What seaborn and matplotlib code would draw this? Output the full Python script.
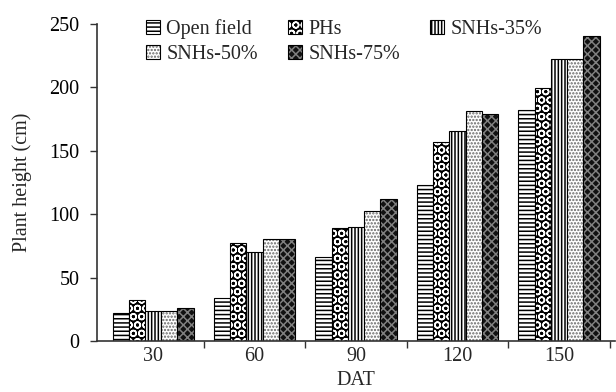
import pandas as pd
import matplotlib.pyplot as plt
import seaborn as sns

# data
dat = ['30', '60', '90', '120', '150']
treatments = ['Open field', 'PHs', 'SNHs-35%', 'SNHs-50%', 'SNHs-75%']
open_field = [22, 34, 66, 123, 182]
phs = [32, 77, 89, 157, 199]
snhs_35 = [24, 70, 90, 165, 222]
snhs_50 = [24, 80, 102, 181, 222]
snhs_75 = [26, 80, 112, 179, 240]

values = [open_field, phs, snhs_35, snhs_50, snhs_75]
rows = []
for t, vals in zip(treatments, values):
    for d, v in zip(dat, vals):
        rows.append({'DAT': d, 'Treatment': t, 'Height': v})
df = pd.DataFrame(rows)

sns.set_style('ticks')
plt.rcParams['font.family'] = ['Liberation Serif', 'DejaVu Serif']
plt.rcParams['hatch.linewidth'] = 1.1

fig, ax = plt.subplots(figsize=(6.16, 3.92), dpi=100)
sns.barplot(data=df, x='DAT', y='Height', hue='Treatment', order=dat,
            hue_order=treatments, palette=['white'] * 5, edgecolor='black',
            linewidth=0.8, width=0.8, ax=ax)

# face colour, hatch, hatch colour per treatment
styles = [('white', '----', 'black'),
          ('black', 'OO', 'white'),
          ('white', '|||||', 'black'),
          ('white', '.....', '#666666'),
          ('#111111', 'xxxx', '#808080')]
for cont, (fc, h, hc) in zip(ax.containers, styles):
    for bar in cont:
        bar.set_facecolor(fc)
        bar.set_edgecolor('black')
        bar.set_hatch(h)
        bar._hatch_color = plt.matplotlib.colors.to_rgba(hc)

# legend: row-major order like the original
handles = [cont.patches[0] for cont in ax.containers]
order = [0, 3, 1, 4, 2]
ax.legend([handles[i] for i in order], [treatments[i] for i in order],
          ncol=3, frameon=False, loc='upper left',
          bbox_to_anchor=(0.075, 1.045), borderpad=0, fontsize=14.5,
          handlelength=0.7, handleheight=0.7, handletextpad=0.3,
          columnspacing=1.5, labelspacing=0.3)

ax.set_ylim(0, 250)
ax.set_yticks([0, 50, 100, 150, 200, 250])
ax.set_xlim(-0.55, 4.55)
# ticks between groups, labels at group centres
ax.set_xticks([0.5, 1.5, 2.5, 3.5, 4.5], labels=[''] * 5)
ax.set_xticks(range(len(dat)), labels=dat, minor=True)
ax.tick_params(axis='x', which='minor', length=0, labelsize=14.5, pad=4)
ax.tick_params(axis='y', labelsize=14.5, pad=8)
ax.tick_params(which='major', direction='out', length=5, width=1, colors='#333333',
               labelcolor='black')
ax.set_xlabel('DAT', fontsize=14.5, labelpad=4)
ax.set_ylabel('Plant height (cm)', fontsize=14.5, labelpad=12)
for s in ['left', 'bottom']:
    ax.spines[s].set_color('#333333')
    ax.spines[s].set_linewidth(1.2)
sns.despine(ax=ax)

plt.subplots_adjust(left=0.158, right=0.998, top=0.94, bottom=0.13)
plt.savefig('out.png', dpi=100)
